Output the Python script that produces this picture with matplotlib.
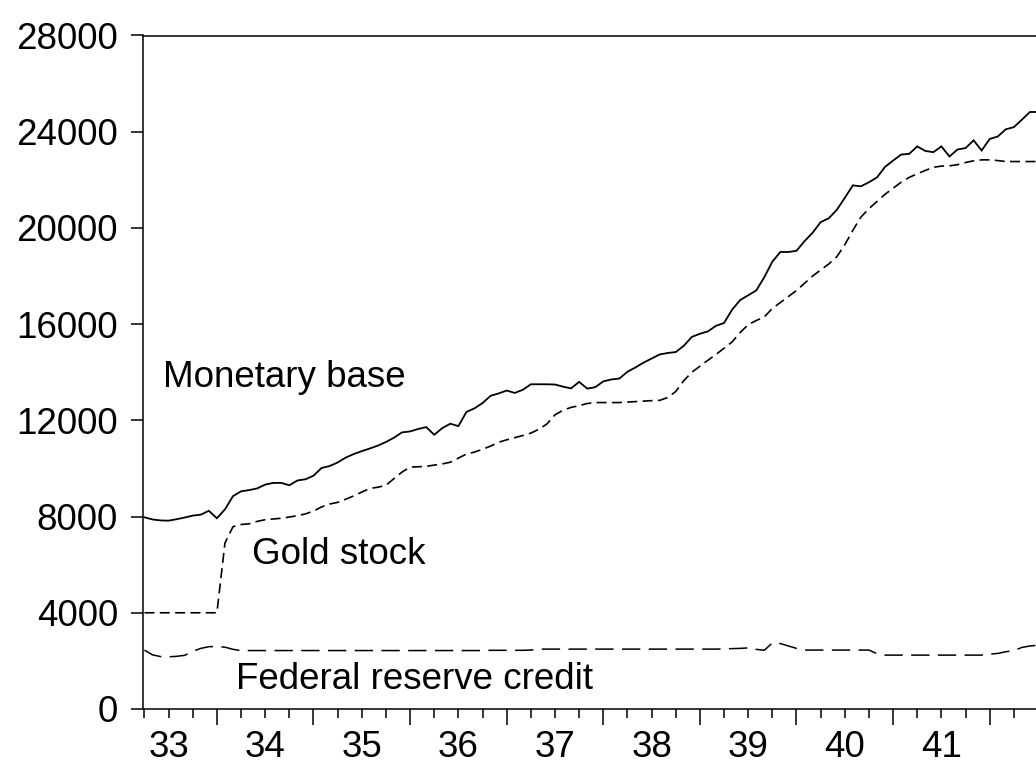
import numpy as np
import matplotlib.pyplot as plt

plt.rcParams['font.family'] = ['Liberation Sans', 'DejaVu Sans']

# monthly observations, first one = April 1933
start_year = 1933
start_month = 4

monetary_base = [
    7970, 7880, 7840, 7830, 7890, 7960, 8040, 8080, 8240, 7930,
    8300, 8850, 9050, 9100, 9170, 9330, 9400, 9400, 9300, 9500,
    9550, 9700, 10020, 10100, 10250, 10450, 10600, 10720, 10830, 10950,
    11100, 11280, 11500, 11540, 11640, 11720, 11400, 11680, 11860, 11760,
    12350, 12500, 12720, 13020, 13120, 13240, 13140, 13270, 13500, 13500,
    13500, 13490, 13400, 13330, 13600, 13320, 13380, 13620, 13700, 13740,
    14020, 14200, 14400, 14570, 14740, 14800, 14840, 15100, 15470, 15600,
    15700, 15930, 16050, 16600, 17000, 17200, 17400, 17950, 18600, 19000,
    19000, 19050, 19450, 19800, 20240, 20400, 20750, 21250, 21770, 21730,
    21900, 22100, 22540, 22800, 23050, 23080, 23390, 23200, 23150, 23390,
    22970, 23260, 23320, 23640, 23220, 23700, 23800, 24100, 24190, 24500,
    24820, 24820,
]

gold_stock = [
    4000, 4000, 4000, 4000, 4000, 4000, 4000, 4000, 4000, 4000,
    6900, 7580, 7670, 7700, 7800, 7870, 7900, 7930, 7980, 8040,
    8110, 8230, 8400, 8520, 8590, 8720, 8860, 9020, 9170, 9220,
    9300, 9580, 9850, 10060, 10070, 10090, 10140, 10190, 10260, 10430,
    10600, 10680, 10800, 10930, 11090, 11190, 11280, 11370, 11470, 11630,
    11850, 12230, 12420, 12540, 12610, 12700, 12740, 12740, 12740, 12740,
    12760, 12780, 12800, 12820, 12830, 12950, 13200, 13650, 14000, 14250,
    14500, 14740, 15000, 15260, 15650, 15980, 16150, 16300, 16650, 16900,
    17150, 17400, 17700, 18000, 18250, 18500, 18800, 19300, 19900, 20450,
    20800, 21100, 21400, 21650, 21900, 22100, 22250, 22390, 22520, 22570,
    22580, 22630, 22720, 22790, 22830, 22830, 22800, 22760, 22760, 22760,
    22760, 22760,
]

fed_credit = [
    2450, 2250, 2180, 2170, 2190, 2230, 2400, 2520, 2590, 2600,
    2570, 2480, 2430, 2430, 2430, 2430, 2430, 2430, 2430, 2430,
    2430, 2430, 2430, 2430, 2430, 2430, 2430, 2430, 2430, 2430,
    2430, 2430, 2430, 2430, 2430, 2430, 2430, 2430, 2430, 2430,
    2430, 2430, 2430, 2440, 2440, 2440, 2440, 2440, 2450, 2490,
    2490, 2490, 2490, 2490, 2490, 2490, 2490, 2490, 2490, 2490,
    2490, 2490, 2490, 2490, 2490, 2490, 2490, 2490, 2490, 2490,
    2490, 2490, 2500, 2510, 2520, 2540, 2480, 2440, 2750, 2720,
    2620, 2520, 2450, 2450, 2450, 2450, 2450, 2450, 2450, 2450,
    2450, 2300, 2240, 2240, 2240, 2240, 2240, 2240, 2240, 2240,
    2240, 2240, 2240, 2240, 2240, 2280, 2310, 2380, 2430, 2560,
    2620, 2650,
]

year_labels = ['33', '34', '35', '36', '37', '38', '39', '40', '41']

# decimal-year positions of the monthly observations
n = len(monetary_base)
t = start_year + (start_month - 1) / 12 + np.arange(n) / 12

fig = plt.figure(figsize=(10.36, 7.69), dpi=100)
ax = fig.add_axes([143 / 1036, (769 - 709) / 769, (1040 - 143) / 1036, (709 - 35.5) / 769])

ax.plot(t, monetary_base, color='black', lw=1.3, solid_joinstyle='miter')
ax.plot(t, gold_stock, color='black', lw=1.2, linestyle=(0, (6, 3.2)))
ax.plot(t, fed_credit, color='black', lw=1.1, linestyle=(0, (12, 5.5)))

ax.set_xlim(1933.235, 1933.235 + 897 / 96.6)
ax.set_ylim(0, 28000)

# y axis
ax.set_yticks(np.arange(0, 28001, 4000))
ax.set_yticklabels([str(v) for v in range(0, 28001, 4000)])
ax.tick_params(axis='y', length=8.6, width=1.1, pad=9.4, labelsize=26.5)

# x axis: long ticks at year starts, short ones at quarters, labels mid-year
years = np.arange(1934, 1943)
ax.set_xticks(years)
ax.set_xticklabels([''] * len(years))
quarters = np.arange(1933.25, 1942.5, 0.25)
ax.set_xticks(quarters, minor=True)
minor_labels = []
k = 0
for q in quarters:
    if abs(q % 1 - 0.5) < 1e-6 and k < len(year_labels):
        minor_labels.append(year_labels[k])
        k += 1
    else:
        minor_labels.append('')
ax.set_xticklabels(minor_labels, minor=True)
ax.tick_params(axis='x', which='major', length=11.5, width=1.1)
ax.tick_params(axis='x', which='minor', length=6.5, width=1.1, pad=8.5, labelsize=26.5)

for side in ['left', 'bottom', 'top']:
    ax.spines[side].set_linewidth(1.1)
ax.spines['right'].set_visible(False)

ax.text(1933.44, 13390, 'Monetary base', fontsize=26.5, ha='left', va='baseline')
ax.text(1934.36, 6030, 'Gold stock', fontsize=26.5, ha='left', va='baseline')
ax.text(1934.2, 830, 'Federal reserve credit', fontsize=26.5, ha='left', va='baseline')

fig.savefig('out.png', dpi=100)
